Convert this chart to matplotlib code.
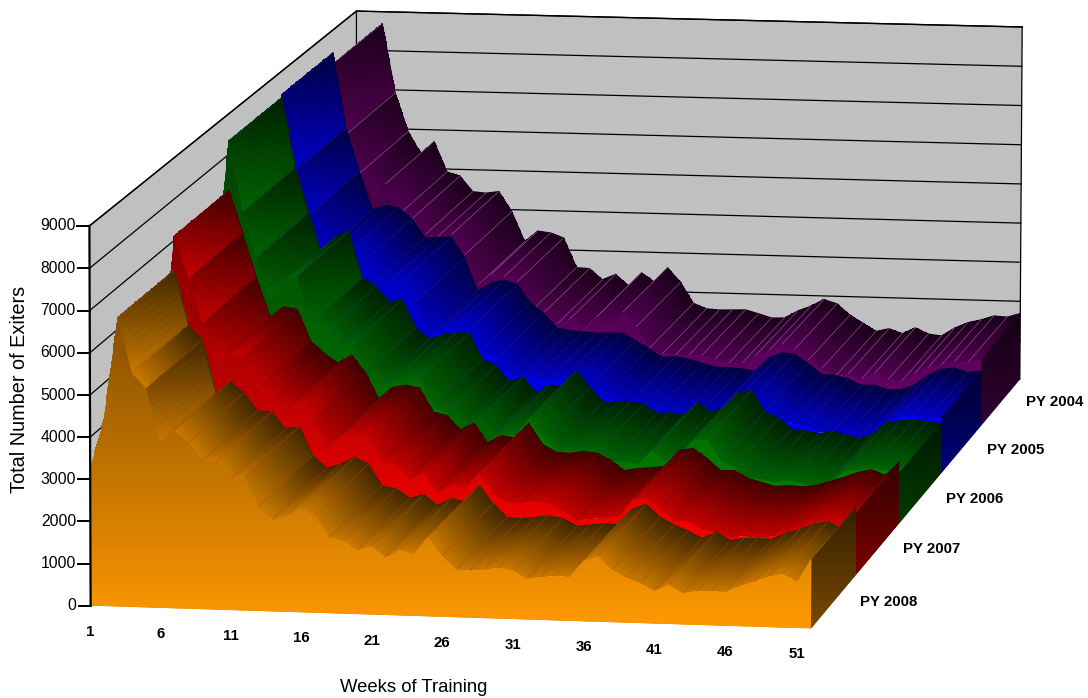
import numpy as np
import matplotlib
matplotlib.use('Agg')
import matplotlib.pyplot as plt
from matplotlib.colors import LinearSegmentedColormap
from matplotlib.patches import Polygon

plt.rcParams['font.family'] = ['Liberation Sans', 'DejaVu Sans']

weeks = list(range(1, 53))
week_labels = [1, 6, 11, 16, 21, 26, 31, 36, 41, 46, 51]
value_ticks = [0, 1000, 2000, 3000, 4000, 5000, 6000, 7000, 8000, 9000]
series_names = ['PY 2008', 'PY 2007', 'PY 2006', 'PY 2005', 'PY 2004']

py2008 = [3240, 4440, 6860, 5540, 5190, 3920, 4210, 3940, 3520, 3510, 3100, 3160, 2480,
          2180, 2290, 2470, 2310, 1800, 1740, 1520, 1620, 1370, 1550, 1470, 1880, 1450,
          1126, 1114, 1150, 1200, 1150, 964, 1015, 1050, 1040, 1430, 1550, 1240, 1070,
          940, 770, 930, 740, 800, 810, 800, 957, 1064, 1195, 1270, 1100, 1626]
py2007 = [3200, 4300, 7680, 6640, 5570, 4600, 4870, 4810, 4040, 3750, 3520, 3730, 3320,
          2670, 2970, 3030, 2970, 2390, 2320, 1970, 2150, 1670, 1870, 1810, 2190, 1680,
          1500, 1480, 1540, 1500, 1340, 1100, 1160, 1190, 1230, 1630, 1690, 1460, 1170,
          1180, 1000, 910, 820, 850, 830, 870, 980, 1090, 1220, 1300, 1170, 1500]
py2006 = [4000, 5640, 8900, 7150, 6040, 5000, 5470, 5620, 4460, 4260, 3880, 3950, 3260,
          2990, 3100, 3160, 3170, 2510, 2370, 1980, 2110, 1710, 1930, 1880, 2300, 1900,
          1540, 1530, 1560, 1520, 1300, 1320, 1270, 1600, 1360, 1500, 1880, 1930, 1420,
          1260, 1000, 980, 910, 980, 900, 830, 950, 1230, 1290, 1320, 1290, 1240]
py2005 = [4000, 5800, 8980, 7080, 5980, 5030, 5160, 5100, 4830, 4360, 4370, 4400, 3880,
          3050, 3260, 3340, 3240, 2780, 2530, 2170, 2120, 2090, 2070, 2080, 2090, 1900,
          1710, 1500, 1530, 1470, 1380, 1290, 1290, 1270, 1210, 1560, 1700, 1680, 1440,
          1190, 1170, 1090, 940, 950, 850, 860, 980, 1240, 1400, 1440, 1340, 1385]
py2004 = [4000, 5900, 8700, 6920, 5940, 5370, 5700, 4930, 4830, 4440, 4410, 4460, 3950,
          3190, 3470, 3430, 3310, 2560, 2540, 2260, 2410, 2130, 2470, 2240, 2620, 2250,
          1720, 1590, 1570, 1580, 1590, 1500, 1400, 1410, 1600, 1730, 1910, 1810, 1530,
          1330, 1130, 1210, 1090, 1250, 1100, 1060, 1270, 1420, 1500, 1610, 1590, 1690]
series_values = [py2008, py2007, py2006, py2005, py2004]

base_colors = [(255, 153, 0), (255, 0, 0), (0, 128, 0), (0, 0, 255), (102, 0, 102)]
line_colors = ['#b04800', '#6a1000', '#0a4a5a', '#2a1a80', '#a060a0']
line_alpha = [0.6, 0.6, 0.7, 0.6, 0.8]

# the box of the chart: (week 0..1, depth 0..1, value 0..1) -> pixel
box = [(0, 0, 0), (0, 0, 1), (1, 0, 0), (0, 1, 0), (0, 1, 1), (1, 1, 0), (1, 1, 1)]
px = [(91, 604), (89, 226), (811, 630), (356, 363), (357, 10), (1020, 377), (1022, 28)]
A = []
b = []
for (u, v, w), (x, y) in zip(box, px):
    A.append([u, v, w, 1, 0, 0, 0, 0, -x*u, -x*v, -x*w])
    b.append(x)
    A.append([0, 0, 0, 0, u, v, w, 1, -y*u, -y*v, -y*w])
    b.append(y)
m = np.linalg.lstsq(np.array(A, float), np.array(b, float), rcond=None)[0]
M = np.append(m, 1).reshape(3, 4)


def proj(week, depth, value):
    p = M @ np.array([(week-1)/51, depth, value/9000, 1])
    return (p[0]/p[2], p[1]/p[2])


fig = plt.figure(figsize=(10.88, 6.98), dpi=100)
ax = fig.add_axes([0, 0, 1, 1])
ax.set_xlim(0, 1088)
ax.set_ylim(698, 0)
ax.axis('off')
ax.autoscale(False)
z = [2]


def next_z():
    z[0] += 1
    return z[0]


def shade(pts, color, top, bottom):
    # polygon with a vertical gradient, top/bottom are brightness factors
    pts = np.array(pts)
    y0 = pts[:, 1].min()
    y1 = pts[:, 1].max()
    t = np.linspace(0, 1, 64)[:, None]
    f = top + (bottom-top)*t
    img = (np.array(color)/255.0)[None, :]*f
    zz = next_z()
    ax.add_patch(Polygon(pts, closed=True, fc=img[32], ec='none', zorder=zz))
    im = ax.imshow(img[:, None, :], extent=(pts[:, 0].min(), pts[:, 0].max(), y1, y0),
                   aspect='auto', zorder=zz, interpolation='bilinear')
    im.set_clip_path(Polygon(pts, closed=True, transform=ax.transData))


def facet(quad, cmap):
    # quad: front left, front right, back right, back left
    # flat facets shade from back to front, steep ones follow the screen
    q = np.array(quad)
    h = abs(q[1, 1]-q[0, 1])
    mix = min(max((h-18)/30, 0), 1)
    y0 = q[:, 1].min()
    y1 = q[:, 1].max()
    s = np.linspace(0, 1, 9)[None, :, None]     # along the weeks
    d = np.linspace(0, 1, 33)[:, None, None]    # back to front
    grid = (1-d)*((1-s)*q[3]+s*q[2]) + d*((1-s)*q[0]+s*q[1])
    tv = (grid[:, :, 1]-y0)/(y1-y0)
    t = mix*tv + (1-mix)*d[:, :, 0]
    cells = (t[:-1, :-1]+t[1:, :-1]+t[:-1, 1:]+t[1:, 1:])/4
    ax.pcolormesh(grid[:, :, 0], grid[:, :, 1], cells, shading='flat', cmap=cmap,
                  vmin=0, vmax=1, zorder=next_z())


# walls
wall = '#c0c0c0'
ax.add_patch(Polygon([proj(1, 0, 0), proj(1, 1, 0), proj(1, 1, 9000), proj(1, 0, 9000)], fc=wall, ec='none', zorder=1))
ax.add_patch(Polygon([proj(1, 1, 0), proj(52, 1, 0), proj(52, 1, 9000), proj(1, 1, 9000)], fc=wall, ec='none', zorder=1))
for val in value_ticks[1:]:
    a = proj(1, 0, val)
    c = proj(1, 1, val)
    d = proj(52, 1, val)
    ax.plot([a[0], c[0], d[0]], [a[1], c[1], d[1]], color='black', lw=0.9, zorder=2)
for p, q in [(proj(1, 1, 0), proj(1, 1, 9000)), (proj(52, 1, 0), proj(52, 1, 9000))]:
    ax.plot([p[0], q[0]], [p[1], q[1]], color='black', lw=0.9, zorder=2)

# bands back to front, each from left to right since the view is from the right
for k in range(4, -1, -1):
    vals = series_values[k]
    col = base_colors[k]
    rgb = np.array(col)/255.0
    cmap = LinearSegmentedColormap.from_list('band%d' % k, [rgb*0.25, rgb*0.78])
    v0 = k/5
    v1 = (k+1)/5
    for i in range(51):
        quad = [proj(weeks[i], v0, vals[i]), proj(weeks[i+1], v0, vals[i+1]),
                proj(weeks[i+1], v1, vals[i+1]), proj(weeks[i], v1, vals[i])]
        facet(quad, cmap)
        zz = next_z()
        # back edge smooths the skyline, left edge is the week line
        ax.plot([quad[3][0], quad[2][0]], [quad[3][1], quad[2][1]], color=rgb*0.25, lw=0.6, zorder=zz)
        if i > 0:
            ax.plot([quad[0][0], quad[3][0]], [quad[0][1], quad[3][1]], color=line_colors[k],
                    lw=0.5, alpha=line_alpha[k], zorder=zz)
    # right end
    end = [proj(52, v0, vals[-1]), proj(52, v1, vals[-1]), proj(52, v1, 0), proj(52, v0, 0)]
    shade(end, col, 0.2, 0.48)
    # front
    front = [proj(w, v0, val) for w, val in zip(weeks, vals)]
    front = front + [proj(52, v0, 0), proj(1, v0, 0)]
    shade(front, col, 0.52, 1.0)

# outline and axis
top_z = next_z()
p0 = proj(1, 0, 9000)
p1 = proj(1, 1, 9000)
p2 = proj(52, 1, 9000)
ax.plot([p0[0], p1[0], p2[0]], [p0[1], p1[1], p2[1]], color='black', lw=1.0, zorder=top_z)
b0 = proj(1, 0, 0)
ax.plot([p0[0], b0[0]], [p0[1], b0[1]], color='black', lw=1.6, zorder=top_z)
for val in value_ticks:
    x, y = proj(1, 0, val)
    ax.plot([x-12, x], [y, y], color='black', lw=1.4, zorder=top_z)
    ax.text(x-14, y, str(val), ha='right', va='center', fontsize=11.3, zorder=top_z)

for w in week_labels:
    x, y = proj(w, 0, 0)
    ax.text(x, y+26, str(w), ha='center', va='center', fontsize=10.8, fontweight='bold', zorder=top_z)

for k, name in enumerate(series_names):
    x, y = proj(52, (k+0.5)/5, 0)
    ax.text(x+26, y, name, ha='left', va='center', fontsize=10.8, fontweight='bold', zorder=top_z)

ax.text(414, 687, 'Weeks of Training', ha='center', va='center', fontsize=13.3, zorder=top_z)
ax.text(20, 389, 'Total Number of Exiters', ha='center', va='center', rotation=90, fontsize=14.3, zorder=top_z)

fig.savefig('out.png', dpi=100)
